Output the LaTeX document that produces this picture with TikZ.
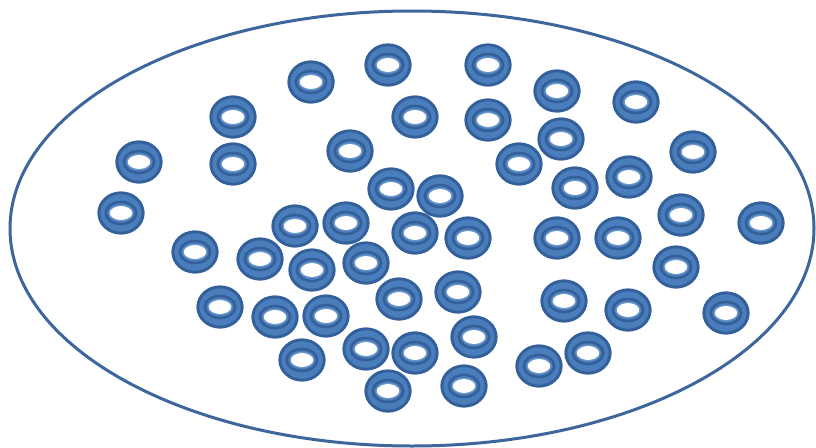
\documentclass[tikz,border=0pt]{standalone}
\definecolor{ringfill}{HTML}{4A7DBC}
\definecolor{ringdark}{HTML}{34609A}
\definecolor{ovalline}{HTML}{3D679C}
\tikzset{
  ring/.pic={
    \fill[ringfill,even odd rule] (0,0) ellipse[x radius=23.5,y radius=21.5] (0,0) ellipse[x radius=11.5,y radius=7.2];
    \draw[ringdark,line width=2.8pt] (0,0) ellipse[x radius=22.1,y radius=20.1];
    \draw[ringdark,line width=2.6pt] (0,0) ellipse[x radius=15.2,y radius=11];
    \draw[ringfill!80!white,line width=1pt] (0,0) ellipse[x radius=12,y radius=7.7];
  },
  oval/.style={draw=ovalline,line width=3pt}
}
\begin{document}
\begin{tikzpicture}[x=1pt,y=-1pt]
\useasboundingbox (0,0) rectangle (816,447);
\fill[white] (0,0) rectangle (816,447);
\draw[oval] (412,228.5) ellipse[x radius=402,y radius=217.5];
\foreach \x/\y in {
311/82, 388/65, 488/65, 557/91, 636/102,
233/117, 415/117, 488/120, 561/139,
139/162, 233/164, 350/151, 519/164, 693/152,
391/189, 440/196, 575/188, 629/177,
121/213, 295/226, 346/223, 415/233, 468/238, 557/238, 618/238, 681/215, 761/223,
195/252, 260/259, 312/270, 366/263, 676/267,
220/307, 275/317, 326/316, 399/299, 458/292, 564/301, 628/310, 726/313,
302/360, 366/349, 415/353, 474/337, 539/366, 588/353,
388/391, 464/386}
  \pic at (\x,\y) {ring};
\end{tikzpicture}
\end{document}
